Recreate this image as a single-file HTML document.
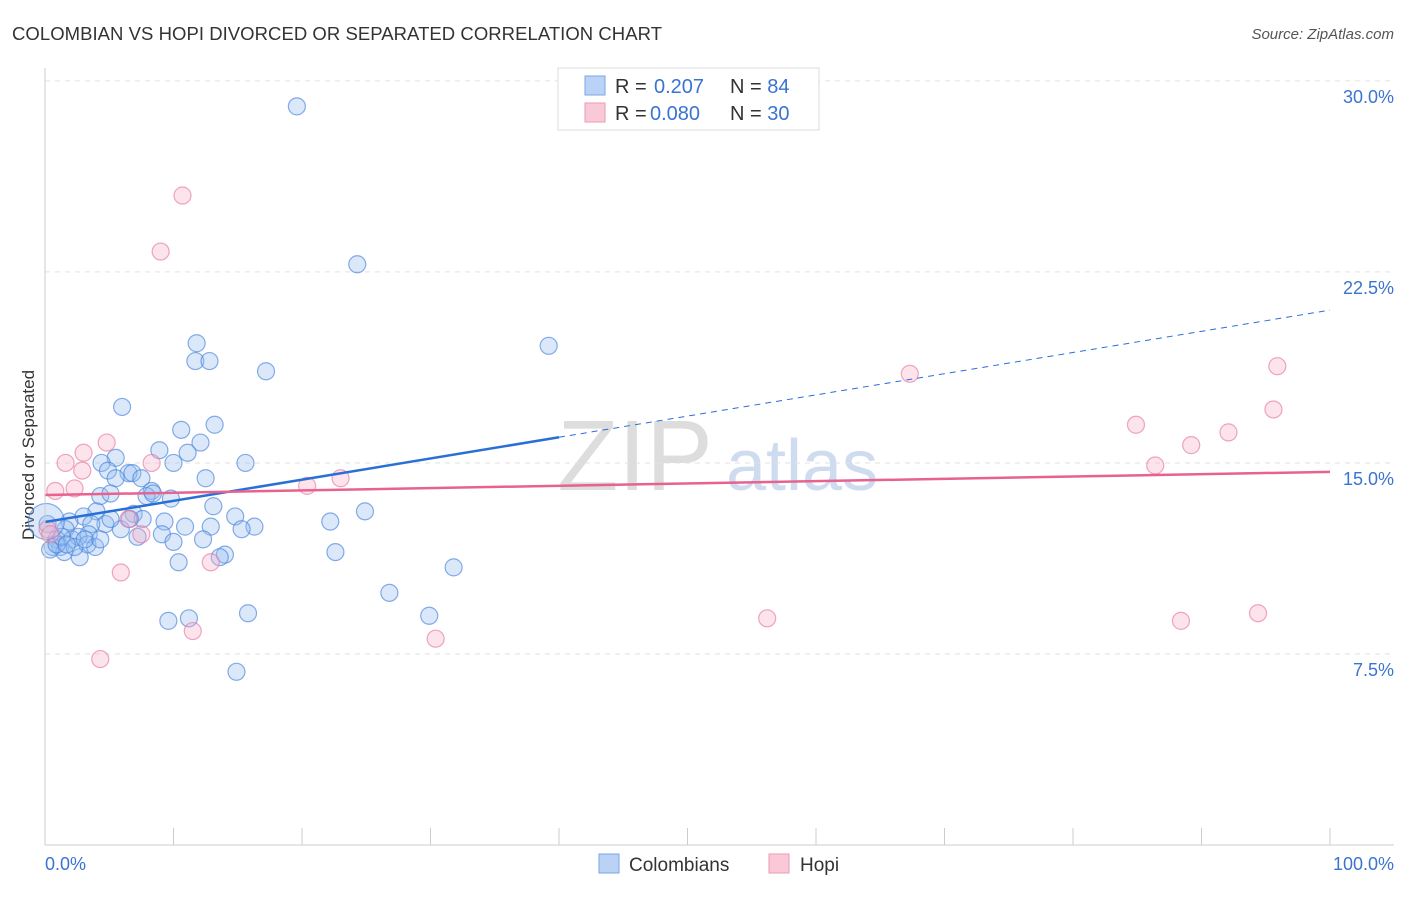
<!DOCTYPE html>
<html><head><meta charset="utf-8"><style>
body{margin:0;background:#fff;font-family:"Liberation Sans",sans-serif}
svg text{font-family:"Liberation Sans",sans-serif}
</style></head><body>
<svg id="c" width="1406" height="892">
<text x="12" y="40" font-size="18.5" fill="#333" textLength="650">COLOMBIAN VS HOPI DIVORCED OR SEPARATED CORRELATION CHART</text>
<text x="1394" y="39" font-size="15" fill="#555" font-style="italic" text-anchor="end">Source: ZipAtlas.com</text>
<text x="34" y="455" font-size="17" fill="#333" transform="rotate(-90 34 455)" text-anchor="middle">Divorced or Separated</text>
<text x="635" y="490" font-size="100" fill="#ddd" text-anchor="middle" font-family="Liberation Serif">ZIP</text>
<text x="802" y="490" font-size="72" fill="#cfdcf0" text-anchor="middle">atlas</text>
<g id="grid"></g><g id="pts"></g><g id="lines"></g>
<line x1="45" y1="68" x2="45" y2="845" stroke="#ccc"/>
<line x1="45" y1="845" x2="1394" y2="845" stroke="#ccc"/>
<text x="45" y="870" font-size="18" fill="#3a74d0">0.0%</text>
<text x="1394" y="870" font-size="18" fill="#3a74d0" text-anchor="end">100.0%</text>
<g>
<rect x="558" y="68" width="261" height="62" fill="#fff" stroke="#ddd"/>
<rect x="585" y="76" width="20" height="19" fill="#b9d2f5" stroke="#7aa6e6"/>
<rect x="585" y="103" width="20" height="19" fill="#f9c9d7" stroke="#ee9ab4"/>
<text x="615" y="93" font-size="20" fill="#333">R = <tspan x="654" fill="#3a74d0">0.207</tspan><tspan x="730">N = </tspan><tspan fill="#3a74d0">84</tspan></text>
<text x="615" y="120" font-size="20" fill="#333">R = <tspan x="650" fill="#3a74d0">0.080</tspan><tspan x="730">N = </tspan><tspan fill="#3a74d0">30</tspan></text>
</g>
<g>
<rect x="599" y="854" width="20" height="19" fill="#b9d2f5" stroke="#7aa6e6"/>
<text x="629" y="871" font-size="19" fill="#333">Colombians</text>
<rect x="769" y="854" width="20" height="19" fill="#f9c9d7" stroke="#ee9ab4"/>
<text x="800" y="871" font-size="19" fill="#333">Hopi</text>
</g>
</svg>
<script>
const yTicks=[7.5,15,22.5,30];
const xTickCount=10;
const blueX=[19.6,24.3,39.2,11.8,11.7,12.8,17.2,6.0,13.2,10.6,12.1,8.9,11.1,5.5,10.0,15.6,4.4,4.9,6.5,6.8,5.5,7.5,12.5,8.3,4.3,5.1,7.9,9.8,8.4,13.1,24.9,4.0,3.0,6.9,7.6,14.8,1.9,4.7,9.3,22.2,3.6,10.9,12.9,16.3,1.6,5.9,15.3,9.1,3.4,7.2,0.2,0.9,2.1,2.6,3.3,1.2,10.0,12.3,0.6,1.5,3.9,2.7,14.0,13.6,22.6,10.4,31.8,26.8,15.8,9.6,11.2,29.9,14.9,0.4,0.9,1.3,2.3,3.1,4.3,1.7,5.1,6.6,0.1];
const blueY=[29.0,22.8,19.6,19.7,19.0,19.0,18.6,17.2,16.5,16.3,15.8,15.5,15.4,15.2,15.0,15.0,15.0,14.7,14.6,14.6,14.4,14.4,14.4,13.9,13.7,13.8,13.7,13.6,13.8,13.3,13.1,13.1,12.9,13.0,12.8,12.9,12.7,12.6,12.7,12.7,12.6,12.5,12.5,12.5,12.4,12.4,12.4,12.2,12.2,12.1,12.6,12.0,12.0,12.1,11.8,11.7,11.9,12.0,11.7,11.5,11.7,11.3,11.4,11.3,11.5,11.1,10.9,9.9,9.1,8.8,8.9,9.0,6.8,11.6,11.8,12.1,11.7,12.0,12.0,11.8,12.8,12.8,12.7];
const pinkX=[10.7,9.0,67.3,95.9,95.6,84.9,92.1,89.2,86.4,4.8,3.0,1.6,2.9,8.3,2.3,0.8,20.4,23.0,6.5,7.5,0.2,0.4,5.9,12.9,4.3,11.5,30.4,56.2,88.4,94.4];
const pinkY=[25.5,23.3,18.5,18.8,17.1,16.5,16.2,15.7,14.9,15.8,15.4,15.0,14.7,15.0,14.0,13.9,14.1,14.4,12.8,12.2,12.4,12.2,10.7,11.1,7.3,8.4,8.1,8.9,8.8,9.1];
const blueTrend=[12.68,21.0];
const pinkTrend=[13.74,14.65];
const blueSolidEnd=40;
const X=v=>45+v*12.85, Y=v=>845-v*25.47;
const NS='http://www.w3.org/2000/svg';
function mk(t,a,p){const e=document.createElementNS(NS,t);for(const k in a)e.setAttribute(k,a[k]);p.appendChild(e);return e;}
const g=document.getElementById('grid');
yTicks.forEach(t=>{
 const l=mk('line',{x1:45,x2:1394,y1:Y(t),y2:Y(t),stroke:'#e2e2e2','stroke-dasharray':'5,5'},g);
 
 
 const tx=mk('text',{x:1394,y:Y(t)+22,'font-size':18,fill:'#3a74d0','text-anchor':'end'},g);
 tx.textContent=t.toFixed(1)+'%';
 
 
});
for(let i=1;i<=xTickCount;i++){
 const l=mk('line',{x1:X(i*10),x2:X(i*10),y1:828,y2:845,stroke:'#ccc'},g);
 
 
}
const p=document.getElementById('pts');
blueX.forEach((v,i)=>{
 const c=mk('circle',{cx:X(v),cy:Y(blueY[i]),r:i==blueX.length-1?18:8.5,fill:'rgba(150,190,240,0.35)',stroke:'rgba(70,130,220,0.65)','stroke-width':1.2},p);
 
 
});
pinkX.forEach((v,i)=>{
 const c=mk('circle',{cx:X(v),cy:Y(pinkY[i]),r:8.5,fill:'rgba(245,175,200,0.35)',stroke:'rgba(230,120,160,0.65)','stroke-width':1.2},p);
 
 
});
const L=document.getElementById('lines');
const bAt=x=>blueTrend[0]+(blueTrend[1]-blueTrend[0])*x/100;
let l1=mk('line',{x1:X(0),y1:Y(bAt(0)),x2:X(blueSolidEnd),y2:Y(bAt(blueSolidEnd)),stroke:'#2a6fd6','stroke-width':2.5},L);


let l2=mk('line',{x1:X(blueSolidEnd),y1:Y(bAt(blueSolidEnd)),x2:X(100),y2:Y(bAt(100)),stroke:'#2a6fd6','stroke-width':1,'stroke-dasharray':'6,5'},L);


let l3=mk('line',{x1:X(0),y1:Y(pinkTrend[0]),x2:X(100),y2:Y(pinkTrend[1]),stroke:'#e8628f','stroke-width':2.5},L);


</script>
</body></html>
